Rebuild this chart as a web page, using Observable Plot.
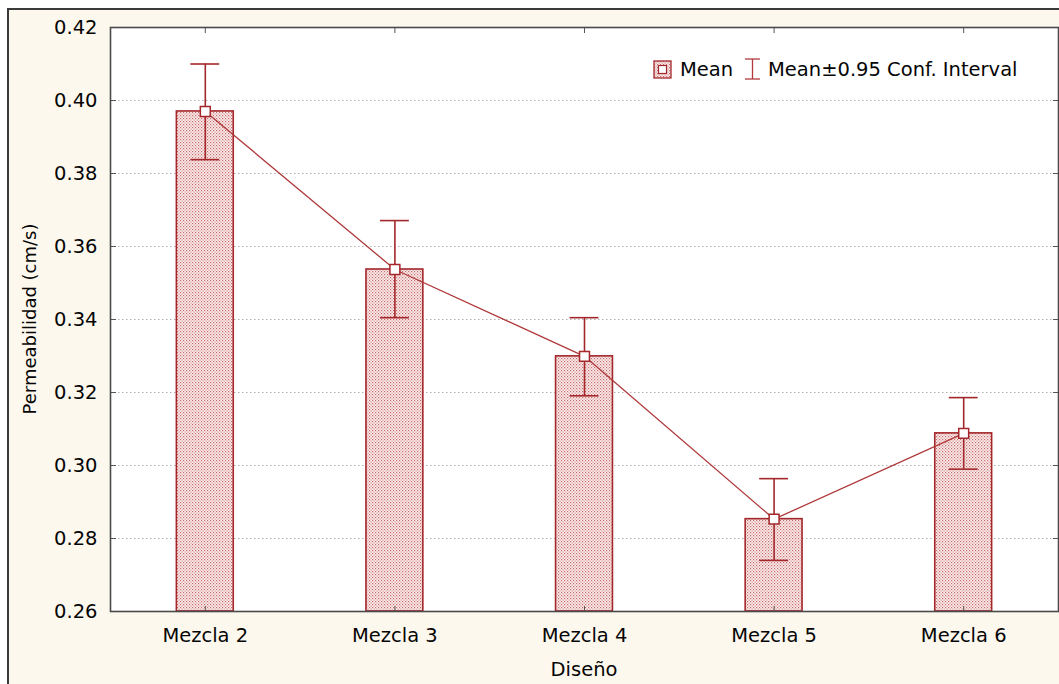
<!DOCTYPE html>
<html>
<head>
<meta charset="utf-8">
<script src="https://cdn.jsdelivr.net/npm/d3@7"></script>
<script src="https://cdn.jsdelivr.net/npm/@observablehq/plot@0.6"></script>
<style>
  html, body { margin: 0; padding: 0; background: #ffffff; width: 1059px; height: 684px; overflow: hidden; }
  #wrap { position: absolute; left: 7px; top: 8px; width: 1052px; height: 676px;
          border-left: 2px solid #3a3a3a; border-top: 2px solid #3a3a3a; background: #fdf8ee; }
  #wrap svg { display: block; }
</style>
</head>
<body>
<div id="wrap"></div>
<script>
const categories = ["Mezcla 2", "Mezcla 3", "Mezcla 4", "Mezcla 5", "Mezcla 6"];
const means = [0.3970, 0.3537, 0.3299, 0.2853, 0.3088];
const upperCI = [0.4100, 0.3671, 0.3405, 0.2964, 0.3186];
const lowerCI = [0.3838, 0.3405, 0.3191, 0.2740, 0.2990];
const yTicks = [0.26, 0.28, 0.30, 0.32, 0.34, 0.36, 0.38, 0.40, 0.42];
const xTitle = "Diseño";
const yTitle = "Permeabilidad (cm/s)";
const legendMean = "Mean";
const legendCI = "Mean±0.95 Conf. Interval";

const data = categories.map((c, i) => ({c, m: means[i], lo: lowerCI[i], hi: upperCI[i]}));

const red = "#a3272b";
const lineRed = "#b03a3c";
const fmt = d3.format(".2f");
const FONT = "DejaVu Sans, Verdana, sans-serif";

const chart = Plot.plot({
  width: 1050,
  height: 674,
  marginLeft: 101,
  marginRight: 1,
  marginTop: 17,
  marginBottom: 73,
  style: {background: "transparent", fontFamily: FONT, fontSize: "19.5px", color: "#050505"},
  x: {domain: categories, paddingInner: 0.7, paddingOuter: 0.35, round: false, label: null},
  y: {domain: [0.26, 0.42], label: null},
  marks: [
    Plot.frame({fill: "white", stroke: "none"}),
    Plot.gridY(yTicks.slice(1, -1), {stroke: "#b0b0b0", strokeOpacity: 1, strokeDasharray: "1.5,2.5"}),
    Plot.barY(data, {x: "c", y1: 0.26, y2: "m", fill: "url(#dots)", stroke: red, strokeWidth: 1.6}),
    Plot.line(data, {x: "c", y: "m", stroke: lineRed, strokeWidth: 1.3}),
    Plot.ruleX(data, {x: "c", y1: "lo", y2: "hi", stroke: red, strokeWidth: 1.6}),
    Plot.tickY(data, {x: "c", y: "hi", stroke: red, strokeWidth: 1.6, insetLeft: 14, insetRight: 14}),
    Plot.tickY(data, {x: "c", y: "lo", stroke: red, strokeWidth: 1.6, insetLeft: 14, insetRight: 14}),
    Plot.dot(data, {x: "c", y: "m", symbol: "square", r: 5.6, fill: "white", stroke: red, strokeWidth: 1.5}),
    Plot.axisY(yTicks, {anchor: "left", tickSize: 0, tickPadding: 13, tickFormat: fmt, fontSize: 19.5, label: null}),
    Plot.axisY(yTicks.slice(1, -1), {anchor: "left", tickSize: -6, tickFormat: () => "", stroke: "#555", label: null}),
    Plot.axisY(yTicks.slice(1, -1), {anchor: "right", tickSize: -6, tickFormat: () => "", stroke: "#555", label: null}),
    Plot.axisX({anchor: "bottom", tickSize: 0, tickPadding: 17, fontSize: 19.5, label: null}),
    Plot.axisX({anchor: "bottom", tickSize: -5, tickFormat: () => "", stroke: "#555", label: null}),
    Plot.axisX({anchor: "top", tickSize: -5, tickFormat: () => "", stroke: "#555", label: null}),
    Plot.frame({stroke: "#4a4a4a", strokeWidth: 1.6})
  ]
});

document.getElementById("wrap").appendChild(chart);

const svg = d3.select(chart);
const defs = svg.insert("defs", ":first-child");
const pat = defs.append("pattern").attr("id", "dots").attr("patternUnits", "userSpaceOnUse")
  .attr("width", 3).attr("height", 3);
pat.append("rect").attr("width", 3).attr("height", 3).attr("fill", "#fbeeee");
pat.append("rect").attr("x", 0).attr("y", 0).attr("width", 1.2).attr("height", 1.2).attr("fill", "#c86a6a");
pat.append("rect").attr("x", 1.5).attr("y", 1.5).attr("width", 1.2).attr("height", 1.2).attr("fill", "#d78a8a");

// axis titles
svg.append("text")
  .attr("transform", "translate(27,309) rotate(-90)")
  .attr("text-anchor", "middle")
  .attr("font-family", FONT).attr("font-size", 18).attr("fill", "#050505")
  .text(yTitle);
svg.append("text")
  .attr("x", 575).attr("y", 666)
  .attr("text-anchor", "middle")
  .attr("font-family", FONT).attr("font-size", 19.5).attr("fill", "#050505")
  .text(xTitle);

// legend
const lg = svg.append("g").attr("text-anchor", "start");
lg.append("rect").attr("x", 645).attr("y", 51).attr("width", 17).attr("height", 17)
  .attr("fill", "url(#dots)").attr("stroke", red).attr("stroke-width", 1.3);
lg.append("rect").attr("x", 649.5).attr("y", 55.5).attr("width", 8).attr("height", 8)
  .attr("fill", "white").attr("stroke", red).attr("stroke-width", 1.2);
lg.append("text").attr("x", 671).attr("y", 66).attr("text-anchor", "start")
  .attr("font-family", FONT).attr("font-size", 19.5).attr("fill", "#050505").text(legendMean);
lg.append("line").attr("x1", 743.5).attr("x2", 743.5).attr("y1", 49).attr("y2", 69)
  .attr("stroke", lineRed).attr("stroke-width", 1.3);
lg.append("line").attr("x1", 736).attr("x2", 751).attr("y1", 49).attr("y2", 49)
  .attr("stroke", lineRed).attr("stroke-width", 1.3);
lg.append("line").attr("x1", 736).attr("x2", 751).attr("y1", 69).attr("y2", 69)
  .attr("stroke", lineRed).attr("stroke-width", 1.3);
lg.append("text").attr("x", 759).attr("y", 66).attr("text-anchor", "start")
  .attr("font-family", FONT).attr("font-size", 19.5).attr("fill", "#050505").text(legendCI);
</script>
</body>
</html>
